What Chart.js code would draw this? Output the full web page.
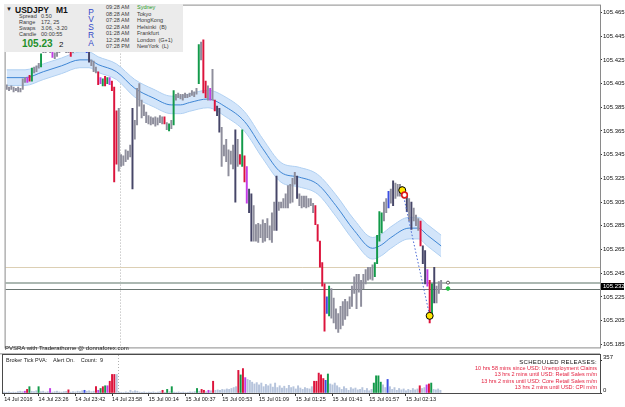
<!DOCTYPE html>
<html>
<head>
<meta charset="utf-8">
<script src="https://cdn.jsdelivr.net/npm/chart.js@4.4.1/dist/chart.umd.min.js"></script>
<style>
body { margin: 0; width: 625px; height: 407px; overflow: hidden; position: relative; background: #fff; font-family: "Liberation Sans", Arial, sans-serif; }
canvas { position: absolute; left: 0; }
#main { top: 0; }
#vol { top: 353px; }
.t { position: absolute; white-space: pre; color: #3a3a3a; }
#info { position: absolute; left: 4px; top: 4px; width: 179px; height: 48px; background: #ebebeb; }
.s { font-size: 5.5px; line-height: 5.5px; }
.r { color: #e3203f; font-size: 5.5px; line-height: 5.5px; right: 28px; }
</style>
</head>
<body>
<canvas id="main" width="625" height="353"></canvas>
<canvas id="vol" width="625" height="54"></canvas>

<div id="info"></div>
<div class="t" style="left:6px;top:6px;font-size:6px;line-height:6px;color:#222">▼</div>
<div class="t" style="left:15px;top:6px;font-size:8.5px;line-height:8.5px;font-weight:bold;color:#111">USDJPY</div>
<div class="t" style="left:56px;top:6px;font-size:8.5px;line-height:8.5px;font-weight:bold;color:#111">M1</div>
<div class="t s" style="left:19px;top:14.3px">Spread</div>
<div class="t s" style="left:41px;top:14.3px">0.50</div>
<div class="t s" style="left:19px;top:20.3px">Range</div>
<div class="t s" style="left:41px;top:20.3px">172, 25</div>
<div class="t s" style="left:19px;top:26.3px">Swaps</div>
<div class="t s" style="left:41px;top:26.3px">3.06, -3.20</div>
<div class="t s" style="left:19px;top:32.3px">Candle</div>
<div class="t s" style="left:41px;top:32.3px">00:00:55</div>
<div class="t" style="left:22px;top:38.7px;font-size:10px;line-height:10px;font-weight:bold;color:#1f8f2a">105.23</div>
<div class="t" style="left:59px;top:40.7px;font-size:8px;line-height:8px;color:#111">2</div>
<div class="t" style="left:88px;top:8.5px;font-size:8.4px;line-height:7.8px;color:#3348c8;text-align:center;width:6px">P<br>V<br>S<br>R<br>A</div>
<div class="t s" style="left:106px;top:4px;line-height:6.55px">09:28 AM<br>08:28 AM<br>07:28 AM<br>02:28 AM<br>01:28 AM<br>12:28 AM<br>07:28 PM</div>
<div class="t s" style="left:137px;top:4px;line-height:6.55px"><span style="color:#2a9a2a">Sydney</span><br>Tokyo<br>HongKong<br>Helsinki  (B)<br>Frankfurt<br>London  (G+1)<br>NewYork  (L)</div>

<div class="t" style="left:5px;top:345px;font-size:6px;line-height:6px;color:#222">PVSRA with Traderathome @ donnaforex.com</div>
<div class="t" style="left:6px;top:357.7px;font-size:5.5px;line-height:5.5px;color:#222">Broker Tick PVA:    Alert On.    Count:  9</div>
<div class="t" style="right:28px;top:358.7px;font-size:6px;line-height:6px;color:#111;letter-spacing:0.3px">SCHEDULED RELEASES:</div>
<div class="t r" style="top:366.3px">10 hrs 58 mins since USD: Unemployment Claims</div>
<div class="t r" style="top:372.2px">13 hrs 2 mins until USD: Retail Sales m/m</div>
<div class="t r" style="top:379px">13 hrs 2 mins until USD: Core Retail Sales m/m</div>
<div class="t r" style="top:385px">13 hrs 2 mins until USD: CPI m/m</div>

<script>
// price window and axis ticks
const priceMin = 105.18236;
const priceMax = 105.47079;
const yTicks = [105.465, 105.445, 105.425, 105.405, 105.385, 105.365, 105.345, 105.325, 105.305, 105.285, 105.265, 105.245, 105.225, 105.205, 105.185];
const slots = 260; // M1 slots across the window, chart shifted left

// time labels on the volume panel
const timeIdx = [0, 15, 31, 47, 63, 79, 95, 111, 127, 143, 159, 175];
const timeText = ['14 Jul 2016', '14 Jul 23:26', '14 Jul 23:42', '14 Jul 23:58', '15 Jul 00:14', '15 Jul 00:37', '15 Jul 00:53', '15 Jul 01:09', '15 Jul 01:25', '15 Jul 01:41', '15 Jul 01:57', '15 Jul 02:13'];
const daySep = 49.5;

// candle highs / lows, one per minute bar
const highs = [
  105.404, 105.402, 105.403, 105.402, 105.401, 105.402, 105.401, 105.409,
  105.410, 105.410, 105.412, 105.418, 105.419, 105.420, 105.422, 105.430,
  105.434, 105.435, 105.436, 105.434, 105.432, 105.431, 105.432, 105.435, 105.437, 105.438, 105.436, 105.434, 105.433,
  105.435, 105.437, 105.439, 105.440, 105.439, 105.437, 105.436, 105.435, 105.425, 105.424, 105.419,
  105.415, 105.410, 105.409, 105.411, 105.410, 105.410, 105.407, 105.402, 105.382, 105.384,
  105.345, 105.344, 105.349, 105.348, 105.353, 105.384, 105.374, 105.401, 105.405, 105.391,
  105.387, 105.381, 105.378, 105.377, 105.376, 105.377, 105.376, 105.378, 105.377, 105.377,
  105.372, 105.371, 105.374, 105.399,
  105.396, 105.397, 105.396, 105.396, 105.397, 105.396, 105.397, 105.399, 105.398, 105.401,
  105.438, 105.440, 105.442, 105.407, 105.403, 105.401, 105.417, 105.391,
  105.386, 105.384, 105.368, 105.353, 105.358, 105.349, 105.348, 105.353, 105.366, 105.358,
  105.345, 105.366, 105.344, 105.335, 105.316, 105.312, 105.302, 105.286, 105.287, 105.286,
  105.290, 105.287, 105.291, 105.285, 105.296, 105.305, 105.327, 105.305, 105.305, 105.308,
  105.312, 105.319, 105.320, 105.325, 105.330, 105.327, 105.312, 105.310, 105.310, 105.310,
  105.308, 105.308, 105.304, 105.302, 105.286, 105.272, 105.254, 105.236, 105.225, 105.234,
  105.232, 105.224, 105.215, 105.211,
  105.217, 105.221, 105.223, 105.221, 105.225, 105.234, 105.242, 105.244, 105.244, 105.239, 105.244, 105.248, 105.250, 105.250, 105.252,
  105.254, 105.277, 105.297, 105.296, 105.305, 105.308, 105.314,
  105.316, 105.323, 105.321, 105.320, 105.320, 105.318, 105.315, 105.310, 105.308, 105.305, 105.300, 105.294, 105.291,
  105.289, 105.268, 105.264, 105.248, 105.239, 105.236, 105.250, 105.234, 105.238, 105.239
];
const lows = [
  105.400, 105.399, 105.400, 105.398, 105.399, 105.398, 105.398, 105.400,
  105.406, 105.406, 105.407, 105.407, 105.414, 105.415, 105.418, 105.419,
  105.431, 105.431, 105.432, 105.431, 105.427, 105.426, 105.428, 105.431, 105.432, 105.433, 105.431, 105.431, 105.428,
  105.431, 105.432, 105.434, 105.435, 105.434, 105.432, 105.431, 105.423, 105.420, 105.415, 105.414,
  105.404, 105.405, 105.403, 105.403, 105.405, 105.404, 105.399, 105.322, 105.337, 105.331,
  105.335, 105.336, 105.339, 105.341, 105.343, 105.316, 105.358, 105.370, 105.386, 105.376,
  105.378, 105.372, 105.371, 105.370, 105.371, 105.369, 105.370, 105.372, 105.371, 105.371,
  105.366, 105.365, 105.367, 105.370,
  105.391, 105.393, 105.392, 105.391, 105.393, 105.393, 105.394, 105.395, 105.394, 105.396,
  105.405, 105.425, 105.397, 105.393, 105.391, 105.391, 105.391, 105.382,
  105.378, 105.364, 105.335, 105.344, 105.339, 105.327, 105.337, 105.333, 105.305, 105.335,
  105.337, 105.335, 105.322, 105.304, 105.296, 105.272, 105.272, 105.272, 105.271, 105.275,
  105.271, 105.272, 105.275, 105.273, 105.271, 105.281, 105.281, 105.298, 105.300, 105.300,
  105.300, 105.300, 105.304, 105.305, 105.320, 105.308, 105.302, 105.300, 105.301, 105.300,
  105.301, 105.302, 105.296, 105.286, 105.272, 105.250, 105.234, 105.196, 105.211, 105.209,
  105.207, 105.203, 105.198, 105.195,
  105.198, 105.201, 105.206, 105.209, 105.215, 105.217, 105.228, 105.215, 105.229, 105.217, 105.232, 105.236, 105.239, 105.240, 105.239,
  105.242, 105.253, 105.272, 105.279, 105.289, 105.296, 105.300,
  105.304, 105.302, 105.308, 105.310, 105.310, 105.310, 105.308, 105.297, 105.289, 105.282, 105.289, 105.285, 105.281,
  105.268, 105.253, 105.236, 105.234, 105.203, 105.209, 105.220, 105.220, 105.228, 105.231
];
// PVSRA class per bar: g normal, d normal dark, r/G climax bear/bull, p/b rising volume
const kinds =
  'gggggggg' + 'gprG' + 'gggG' + 'ggggp' + 'gggggggr' + 'ggggggb' + 'dggg' + 'rpGrGprrrg' +
  'gggggdgggg' + 'gggggggggr' + 'gGgG' + 'gggggggggg' + 'Ggrrgpgr' + 'ddggggggdg' +
  'rGrpddgggg' + 'ggggggdggg' + 'gggggdgggg' + 'gggrrrrrbG' + 'gggg' + 'ggggggggggggggg' +
  'GGGGggb' + 'gdgggggdgdggg' + 'rddprGdggg';

// tick volume per bar
const volumes = [
  10, 8, 12, 6, 10, 8, 15, 20,
  15, 20, 40, 70,
  20, 15, 25, 70,
  15, 20, 10, 15, 50,
  10, 15, 20, 12, 10, 15, 18, 35,
  10, 15, 12, 20, 15, 25, 30,
  20, 25, 15, 20,
  70, 30, 50, 70, 80, 80, 130, 205, 205, 205,
  10, 8, 5, 12, 8, 30, 15, 25, 20, 10,
  8, 12, 5, 10, 8, 12, 6, 10, 15, 30,
  8, 40, 15, 70,
  10, 8, 12, 6, 10, 5, 8, 12, 10, 15,
  50, 20, 40, 30, 15, 30, 25, 130,
  30, 35, 30, 40, 35, 45, 40, 50, 60, 70,
  250, 200, 270, 170, 150, 140, 120, 100, 115, 90,
  110, 70, 95, 80, 100, 65, 110, 60, 80, 55,
  75, 50, 85, 60, 70, 45, 80, 55, 40, 60,
  50, 45, 70, 130, 130, 220, 200, 160, 140, 210,
  100, 90, 110, 80,
  60, 40, 70, 50, 30, 60, 45, 55, 35, 40, 60, 30, 50, 25, 40,
  110, 190, 190, 120, 90, 60, 150,
  70, 40, 60, 30, 50, 35, 45, 25, 40, 30, 50, 35, 45,
  80, 50, 60, 90, 100, 110, 40, 35, 45, 30
];
const volMax = 420;
const volTicks = [0, 357];

// envelope around the moving average, sampled along the bars
const bandIdx = [0, 8, 16, 24, 32, 36, 40, 48, 56, 64, 72, 76, 80, 88, 96, 104, 112, 120, 128, 136, 144, 152, 160, 164, 168, 176, 180, 184, 190];
const bandMid = [105.410, 105.410, 105.415, 105.420, 105.425, 105.425, 105.421, 105.415, 105.401, 105.393, 105.387, 105.387, 105.389, 105.392, 105.385, 105.373, 105.350, 105.330, 105.326, 105.320, 105.302, 105.281, 105.266, 105.269, 105.275, 105.283, 105.283, 105.277, 105.268];
const bandHalf = [0.0066, 0.0066, 0.0066, 0.0066, 0.0066, 0.0066, 0.0066, 0.0066, 0.0074, 0.0074, 0.0074, 0.0074, 0.0074, 0.0074, 0.0083, 0.0083, 0.0083, 0.0083, 0.0083, 0.0083, 0.0091, 0.0091, 0.0091, 0.0091, 0.0091, 0.0091, 0.0091, 0.0091, 0.0091];

// zigzag swing points, marker ring, price levels
const swingIdx = [173, 185];
const swingVal = [105.315, 105.209];
const ringIdx = 174;
const ringVal = 105.311;
const roundLevel = 105.250;
const askPrice = 105.237;
const bidPrice = 105.232;
const tailIdx = 193;

const font = '"Liberation Sans", Arial, sans-serif';
const kindColor = { g: '#8e8e9c', d: '#464668', r: '#dc143c', G: '#139a4a', p: '#c23ce6', b: '#3a4ee2' };
const volColor = { g: '#b6c4dc', d: '#b6c4dc', r: '#dc143c', G: '#139a4a', p: '#c23ce6', b: '#3a4ee2' };

const idxLabels = Array.from({ length: slots }, (_, i) => i);
const candleRanges = highs.map((h, i) => [lows[i], h]);
const candleColors = highs.map((h, i) => kindColor[kinds[i]]);
const upper = bandIdx.map((x, i) => ({ x: x, y: bandMid[i] + bandHalf[i] }));
const lower = bandIdx.map((x, i) => ({ x: x, y: bandMid[i] - bandHalf[i] }));
const mid = bandIdx.map((x, i) => ({ x: x, y: bandMid[i] }));
const swings = swingIdx.map((x, i) => ({ x: x, y: swingVal[i] }));

function hline(ctx, area, y, color, width) {
    ctx.strokeStyle = color;
    ctx.lineWidth = width;
    ctx.beginPath();
    ctx.moveTo(area.left, y);
    ctx.lineTo(area.right, y);
    ctx.stroke();
}

function daySeparator(ctx, area, x) {
    ctx.strokeStyle = '#b0b0b0';
    ctx.lineWidth = 1;
    ctx.setLineDash([1, 2]);
    ctx.beginPath();
    ctx.moveTo(Math.round(x) + 0.5, area.top);
    ctx.lineTo(Math.round(x) + 0.5, area.bottom);
    ctx.stroke();
    ctx.setLineDash([]);
}

const mainDecor = {
    id: 'mainDecor',
    beforeDatasetsDraw(chart) {
        const { ctx, chartArea: a, scales: { x, y } } = chart;
        ctx.save();
        daySeparator(ctx, a, x.getPixelForValue(daySep));
        hline(ctx, a, Math.round(y.getPixelForValue(roundLevel)) + 0.5, '#dccfb4', 1);
        hline(ctx, a, Math.round(y.getPixelForValue(askPrice)), '#acb8b2', 2);
        hline(ctx, a, Math.round(y.getPixelForValue(bidPrice)) + 0.5, '#6a7672', 1);
        ctx.restore();
    },
    afterDraw(chart) {
        const { ctx, chartArea: a, scales: { y } } = chart;
        ctx.save();
        ctx.strokeStyle = '#8a8a8a';
        ctx.lineWidth = 1;
        ctx.strokeRect(a.left - 0.5, a.top - 0.5, a.right - a.left + 1, a.bottom - a.top + 1);
        const yb = Math.round(y.getPixelForValue(bidPrice));
        ctx.fillStyle = '#000';
        ctx.fillRect(a.right + 1, yb - 6, 23, 7);
        ctx.fillStyle = '#fff';
        ctx.font = '6px ' + font;
        ctx.textBaseline = 'middle';
        ctx.fillText(bidPrice.toFixed(3), a.right + 3, yb - 2.5);
        ctx.restore();
    }
};

const volDecor = {
    id: 'volDecor',
    beforeDatasetsDraw(chart) {
        const { ctx, chartArea: a, scales: { x } } = chart;
        ctx.save();
        daySeparator(ctx, a, x.getPixelForValue(daySep));
        ctx.restore();
    },
    afterDraw(chart) {
        const { ctx, chartArea: a } = chart;
        ctx.save();
        ctx.strokeStyle = '#b8b8b8';
        ctx.lineWidth = 2;
        ctx.beginPath();
        ctx.moveTo(0, 0.5);
        ctx.lineTo(a.right, 0.5);
        ctx.stroke();
        ctx.strokeStyle = '#4a4a4a';
        ctx.lineWidth = 1;
        ctx.strokeRect(a.left - 0.5, a.top - 0.5, a.right - a.left + 1, a.bottom - a.top + 1);
        ctx.restore();
    }
};

new Chart(document.getElementById('main'), {
    type: 'bar',
    data: {
        labels: idxLabels,
        datasets: [
            { data: candleRanges, backgroundColor: candleColors, barThickness: 1.3, grouped: false, order: 2 },
            { type: 'line', data: upper, borderColor: '#b0d0f2', borderWidth: 1, pointRadius: 0, cubicInterpolationMode: 'monotone', fill: false, order: 5 },
            { type: 'line', data: lower, borderColor: '#b0d0f2', borderWidth: 1, pointRadius: 0, cubicInterpolationMode: 'monotone', fill: '-1', backgroundColor: '#d3e5fa', order: 5 },
            { type: 'line', data: mid, borderColor: '#3f86d4', borderWidth: 1, pointRadius: 0, cubicInterpolationMode: 'monotone', order: 4 },
            { type: 'line', data: swings, borderColor: '#4a6ad6', borderWidth: 1, borderDash: [1.5, 2], pointRadius: 0, order: 1 },
            { type: 'line', data: swings, showLine: false, pointRadius: 3.5, pointBackgroundColor: '#ffe600', pointBorderColor: '#000', pointBorderWidth: 1, order: 0 },
            { type: 'line', data: [{ x: ringIdx, y: ringVal }], showLine: false, pointRadius: 2.8, pointBackgroundColor: '#fff', pointBorderColor: '#e01a1a', pointBorderWidth: 1.6, order: -1 },
            { type: 'line', data: [{ x: tailIdx, y: askPrice }], showLine: false, pointRadius: 1.5, pointBackgroundColor: '#fff', pointBorderColor: '#333', pointBorderWidth: 0.8, order: 0 },
            { type: 'line', data: [{ x: tailIdx, y: bidPrice }], showLine: false, pointRadius: 1.8, pointBackgroundColor: '#20c040', pointBorderColor: '#20c040', order: 0 }
        ]
    },
    options: {
        responsive: false,
        animation: false,
        events: [],
        layout: { padding: { left: 3, top: 3, right: 0, bottom: 1 } },
        plugins: { legend: { display: false }, tooltip: { enabled: false } },
        scales: {
            x: { type: 'category', display: false, offset: true },
            y: {
                position: 'right',
                min: priceMin,
                max: priceMax,
                afterBuildTicks: s => { s.ticks = yTicks.map(v => ({ value: v })); },
                afterFit: s => { s.width = 25; s.paddingTop = 0; s.paddingBottom = 0; },
                ticks: { font: { size: 6, family: font }, color: '#111', padding: 1, callback: v => v.toFixed(3) },
                grid: { drawOnChartArea: false, tickLength: 2, color: '#333' },
                border: { color: '#8a8a8a' }
            }
        }
    },
    plugins: [mainDecor]
});

new Chart(document.getElementById('vol'), {
    type: 'bar',
    data: {
        labels: idxLabels,
        datasets: [
            { data: volumes, backgroundColor: volumes.map((v, i) => volColor[kinds[i]]), barThickness: 1.3 }
        ]
    },
    options: {
        responsive: false,
        animation: false,
        events: [],
        layout: { padding: { left: 3, top: 2, right: 0, bottom: 0 } },
        plugins: { legend: { display: false }, tooltip: { enabled: false } },
        scales: {
            x: {
                type: 'category',
                offset: true,
                afterBuildTicks: s => { s.ticks = timeIdx.map(i => ({ value: i })); },
                afterFit: s => { s.height = 14; s.paddingLeft = 0; s.paddingRight = 0; },
                ticks: {
                    autoSkip: false, maxRotation: 0, minRotation: 0, align: 'start', padding: 0,
                    font: { size: 5.5, family: font }, color: '#111',
                    callback: v => timeText[timeIdx.indexOf(v)]
                },
                grid: { drawOnChartArea: false, offset: false, tickLength: 3, color: '#333' },
                border: { color: '#4a4a4a' }
            },
            y: {
                position: 'right',
                min: 0,
                max: volMax,
                afterBuildTicks: s => { s.ticks = volTicks.map(v => ({ value: v })); },
                afterFit: s => { s.width = 25; s.paddingTop = 0; s.paddingBottom = 0; },
                ticks: { font: { size: 6, family: font }, color: '#111', padding: 1, labelOffset: -3 },
                grid: { drawOnChartArea: false, tickLength: 2, color: '#333' },
                border: { color: '#4a4a4a' }
            }
        }
    },
    plugins: [volDecor]
});
</script>
</body>
</html>
